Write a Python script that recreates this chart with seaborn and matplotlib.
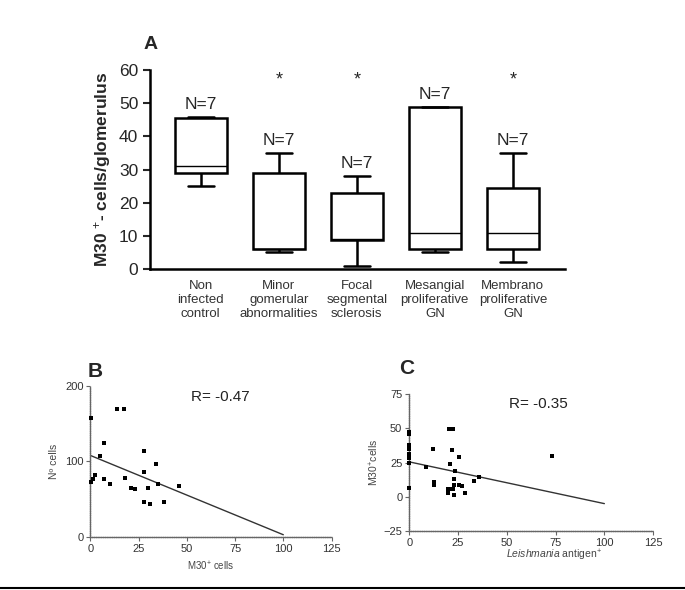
import numpy as np
import pandas as pd
import seaborn as sns
import matplotlib.pyplot as plt

sns.set_style('white')
plt.rcParams['font.family'] = ['Liberation Sans', 'DejaVu Sans']
plt.rcParams['mathtext.fontset'] = 'custom'
plt.rcParams['mathtext.rm'] = 'Liberation Sans'
plt.rcParams['mathtext.it'] = 'Liberation Sans:italic'

groups = ['Non\ninfected\ncontrol', 'Minor\ngomerular\nabnormalities',
          'Focal\nsegmental\nsclerosis', 'Mesangial\nproliferative\nGN',
          'Membrano\nproliferative\nGN']
non_infected = [25, 29, 29, 31, 45.5, 45.5, 46]
minor = [5, 6, 6, 6, 29, 29, 35]
focal = [1, 8.7, 8.7, 9, 23, 23, 28]
mesangial = [5, 6, 6, 11, 49, 49, 49]
membrano = [2, 6, 6, 11, 24.5, 24.5, 35]
n_labels = ['N=7', 'N=7', 'N=7', 'N=7', 'N=7']
signif = ['', '*', '*', '', '*']

# panel B
b_x = [0.2, 14, 17.6, 7.1, 4.8, 28, 34, 28, 2.2, 0.3, 1.2, 7.1, 18, 10, 21, 23, 30, 35, 46, 28, 31, 38]
b_y = [157, 169, 169.5, 124, 107, 114, 96.7, 85.7, 82, 73, 77, 77, 78, 70, 64.5, 63.6, 64.5, 70, 67.5, 46, 43.7, 46.4]
b_line_x = [0, 100]
b_line_y = [108, 3]

# panel C
c_x = [0, 0, 0, 0, 0, 0, 0, 0, 0, 0, 12, 8.7, 12.8, 12.8, 20.3, 22.2, 21.9, 25.3, 20.9,
       23.6, 23, 23, 25.3, 27, 20, 21.4, 22.6, 19.8, 22.9, 28.5, 33, 35.9, 73.2]
c_y = [47, 46, 38, 35, 31, 30, 29, 28, 25, 6.3, 35, 22, 10.5, 8.8, 49.5, 49.5, 34, 28.8, 23.7,
       18.8, 12.7, 8.8, 8.8, 7.6, 6, 6, 6, 2.4, 1.5, 2.4, 11.2, 14.6, 30]
c_line_x = [0, 100]
c_line_y = [25.5, -5]

fig = plt.figure(figsize=(6.85, 5.9), dpi=100)

# ---- A
axA = fig.add_axes([0.219, 0.544, 0.606, 0.337])
vals = [non_infected, minor, focal, mesangial, membrano]
dfA = pd.DataFrame({'group': np.repeat(groups, 7), 'value': np.concatenate(vals)})
sns.boxplot(data=dfA, x='group', y='value', ax=axA, whis=(0, 100), width=0.67,
            color='white', linecolor='black', linewidth=1.8,
            medianprops={'linewidth': 1})
for i, v in enumerate(vals):
    axA.text(i, max(v) + 1.5, n_labels[i], ha='center', va='bottom', fontsize=12.5)
    if signif[i]:
        axA.text(i, 54.5, signif[i], ha='center', va='bottom', fontsize=13)
axA.set_xlim(-0.65, 4.67)
axA.set_ylim(0, 60)
axA.set_yticks([0, 10, 20, 30, 40, 50, 60])
axA.tick_params(axis='y', labelsize=12.5, length=5, width=1.5, direction='out', left=True)
axA.tick_params(axis='x', labelsize=9.5, length=0, pad=8, labelcolor='#333333')
axA.set_xlabel('')
axA.set_ylabel('M30 $^{+}$- cells/glomerulus', fontsize=12.5, fontweight='bold')
for s in ['top', 'right']:
    axA.spines[s].set_visible(False)
for s in ['left', 'bottom']:
    axA.spines[s].set_linewidth(1.8)
    axA.spines[s].set_color('black')
fig.text(0.209, 0.924, 'A', fontsize=14, fontweight='bold', va='center')

# ---- B
axB = fig.add_axes([0.132, 0.0898, 0.352, 0.256])
sns.scatterplot(x=b_x, y=b_y, ax=axB, marker='s', s=9, color='black', edgecolor='black',
                linewidth=0, clip_on=False, zorder=3)
sns.lineplot(x=b_line_x, y=b_line_y, ax=axB, color='#333333', linewidth=1)
axB.set_xlim(0, 125)
axB.set_ylim(0, 200)
axB.set_xticks([0, 25, 50, 75, 100, 125])
axB.set_yticks([0, 100, 200])
axB.set_xlabel('M30$^{+}$ cells', fontsize=7, color='#444444')
axB.set_ylabel('Nº cells', fontsize=7.5, color='#444444')
axB.text(0.54, 0.93, 'R= -0.47', transform=axB.transAxes, ha='center', va='center', fontsize=11, color='#222222')
fig.text(0.128, 0.37, 'B', fontsize=15, fontweight='bold', va='center')

# ---- C
axC = fig.add_axes([0.5975, 0.1, 0.356, 0.232])
sns.scatterplot(x=c_x, y=c_y, ax=axC, marker='s', s=9, color='black', edgecolor='black',
                linewidth=0, clip_on=False, zorder=3)
sns.lineplot(x=c_line_x, y=c_line_y, ax=axC, color='#333333', linewidth=1)
axC.set_xlim(0, 125)
axC.set_ylim(-25, 75)
axC.set_xticks([0, 25, 50, 75, 100, 125])
axC.set_yticks([-25, 0, 25, 50, 75])
axC.set_xlabel(r'$\it{Leishmania}$ antigen$^{+}$', fontsize=7.5, color='#444444')
axC.xaxis.set_label_coords(0.595, -0.12)
axC.set_ylabel('M30$^{+}$cells', fontsize=7.5, color='#444444', labelpad=2)
axC.text(0.53, 0.93, 'R= -0.35', transform=axC.transAxes, ha='center', va='center', fontsize=11, color='#222222')
fig.text(0.582, 0.375, 'C', fontsize=15, fontweight='bold', va='center')

for ax in (axB, axC):
    for s in ['top', 'right']:
        ax.spines[s].set_visible(False)
    for s in ['left', 'bottom']:
        ax.spines[s].set_color('#666666')
        ax.spines[s].set_linewidth(1)
        ax.spines[s].set_linestyle((0, (1, 0.6)))
    ax.tick_params(labelsize=8, length=3, width=0.8, color='#666666', labelcolor='#333333',
                   direction='out', left=True, bottom=True, pad=2)

# bottom rule
fig.add_artist(plt.Line2D([0.0, 1.0], [0.003, 0.003], color='black', linewidth=1.5, transform=fig.transFigure))

fig.savefig('out.png', dpi=100)
